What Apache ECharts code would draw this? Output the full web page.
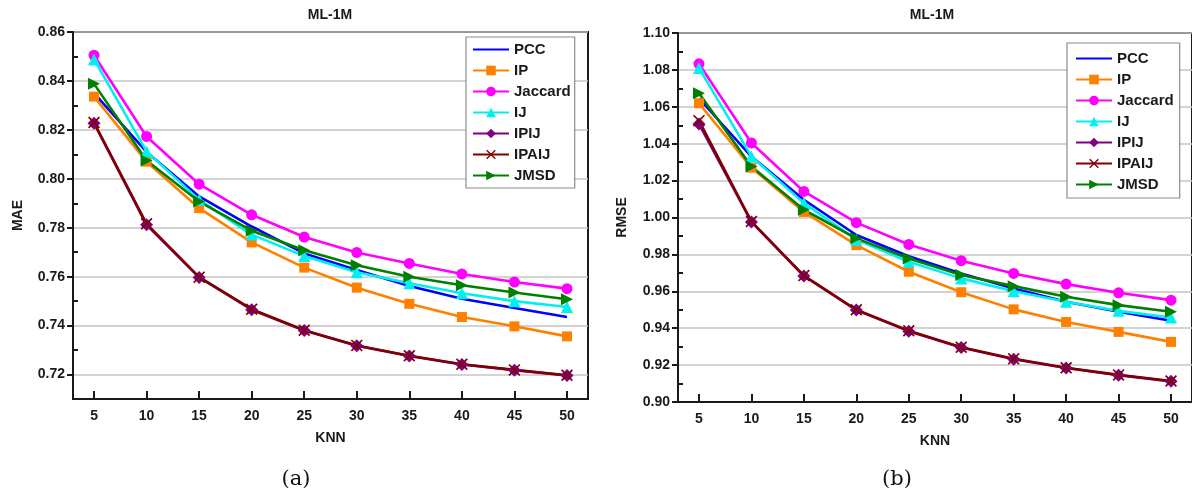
<!DOCTYPE html>
<html><head><meta charset="utf-8">
<script src="https://cdn.jsdelivr.net/npm/echarts@6/dist/echarts.min.js"></script>
<style>html,body{margin:0;padding:0;background:#fff}#c{width:1192px;height:495px}</style>
</head><body><div id="c"></div>
<script>
// ---------- data ----------
const knn = [5, 10, 15, 20, 25, 30, 35, 40, 45, 50];
const seriesNames = ['PCC', 'IP', 'Jaccard', 'IJ', 'IPIJ', 'IPAIJ', 'JMSD'];

const maePCC     = [0.8350, 0.8110, 0.7928, 0.7805, 0.7695, 0.7627, 0.7562, 0.7510, 0.7472, 0.7435];
const maeIP      = [0.8336, 0.8070, 0.7880, 0.7740, 0.7637, 0.7555, 0.7489, 0.7435, 0.7397, 0.7356];
const maeJaccard = [0.8505, 0.8173, 0.7978, 0.7853, 0.7762, 0.7699, 0.7654, 0.7611, 0.7578, 0.7551];
const maeIJ      = [0.8488, 0.8112, 0.7914, 0.7772, 0.7684, 0.7618, 0.7573, 0.7532, 0.7500, 0.7476];
const maeIPIJ    = [0.8227, 0.7812, 0.7597, 0.7465, 0.7380, 0.7318, 0.7276, 0.7241, 0.7218, 0.7196];
const maeIPAIJ   = [0.8230, 0.7816, 0.7598, 0.7467, 0.7381, 0.7319, 0.7277, 0.7242, 0.7219, 0.7197];
const maeJMSD    = [0.8388, 0.8075, 0.7907, 0.7788, 0.7708, 0.7647, 0.7600, 0.7565, 0.7535, 0.7508];

const rmsePCC     = [1.0645, 1.0330, 1.0096, 0.9905, 0.9790, 0.9697, 0.9615, 0.9543, 0.9489, 0.9440];
const rmseIP      = [1.0619, 1.0270, 1.0030, 0.9850, 0.9706, 0.9595, 0.9502, 0.9434, 0.9380, 0.9326];
const rmseJaccard = [1.0833, 1.0404, 1.0141, 0.9972, 0.9854, 0.9766, 0.9697, 0.9639, 0.9592, 0.9552];
const rmseIJ      = [1.0810, 1.0331, 1.0078, 0.9880, 0.9760, 0.9670, 0.9600, 0.9543, 0.9494, 0.9458];
const rmseIPIJ    = [1.0507, 0.9976, 0.9683, 0.9498, 0.9384, 0.9295, 0.9232, 0.9184, 0.9145, 0.9112];
const rmseIPAIJ   = [1.0525, 0.9978, 0.9685, 0.9500, 0.9386, 0.9297, 0.9234, 0.9186, 0.9147, 0.9114];
const rmseJMSD    = [1.0673, 1.0276, 1.0042, 0.9887, 0.9778, 0.9688, 0.9628, 0.9570, 0.9525, 0.9489];

const maeTicks  = [0.72, 0.74, 0.76, 0.78, 0.80, 0.82, 0.84, 0.86];
const maeMinor  = [0.73, 0.75, 0.77, 0.79, 0.81, 0.83, 0.85];
const rmseTicks = [0.90, 0.92, 0.94, 0.96, 0.98, 1.00, 1.02, 1.04, 1.06, 1.08, 1.10];
const rmseMinor = [0.91, 0.93, 0.95, 0.97, 0.99, 1.01, 1.03, 1.05, 1.07, 1.09];

// ---------- styles ----------
const FONT = 'Liberation Sans, Arial, sans-serif';
const DARK = '#1a1a1a';
const styleOf = {
  // PCC: line only; its symbol is a thin bar (with degenerate corner points so it is not stretched)
  PCC:     {color: '#0000ff', symbol: 'path://M0,0 L0.01,0 L0,0.01 Z M0,4.6 L10,4.6 L10,5.4 L0,5.4 Z M10,10 L9.99,10 L10,9.99 Z', size: 0, hide: true},
  IP:      {color: '#ff8000', symbol: 'rect', size: 10},
  Jaccard: {color: '#ff00ff', symbol: 'circle', size: 11},
  IJ:      {color: '#00f0f0', symbol: 'triangle', size: 12},
  IPIJ:    {color: '#800080', symbol: 'diamond', size: 13},
  IPAIJ:   {color: '#800000', symbol: 'path://M0,1 L1,0 L5,4 L9,0 L10,1 L6,5 L10,9 L9,10 L5,6 L1,10 L0,9 L4,5 Z', size: 12},
  JMSD:    {color: '#008000', symbol: 'path://M0,0 L10,5 L0,10 Z', size: 12}
};

function mk(name, vals, gi) {
  const s = styleOf[name];
  return {
    name: name, type: 'line', xAxisIndex: gi, yAxisIndex: gi * 2,
    data: knn.map((k, i) => [k, vals[i]]),
    symbol: s.symbol, symbolSize: s.size, showSymbol: !s.hide,
    lineStyle: {color: s.color, width: 2.6},
    itemStyle: {color: s.color},
    animation: false
  };
}

const maeSets  = [maePCC, maeIP, maeJaccard, maeIJ, maeIPIJ, maeIPAIJ, maeJMSD];
const rmseSets = [rmsePCC, rmseIP, rmseJaccard, rmseIJ, rmseIPIJ, rmseIPAIJ, rmseJMSD];

function xAx(gi) {
  return {
    gridIndex: gi, type: 'value', min: 3, max: 52,
    axisLine: {lineStyle: {color: DARK, width: 2}},
    axisTick: {customValues: knn, inside: true, length: 8, lineStyle: {color: DARK, width: 2}},
    axisLabel: {customValues: knn, margin: 10, color: DARK, fontWeight: 'bold', fontSize: 14, fontFamily: FONT},
    splitLine: {show: false},
    name: 'KNN', nameLocation: 'middle', nameGap: 32,
    nameTextStyle: {color: DARK, fontWeight: 'bold', fontSize: 14, fontFamily: FONT}
  };
}
function yMajor(gi, min, max, ticks, name, gap) {
  return {
    gridIndex: gi, type: 'value', position: 'left', min: min, max: max,
    axisLine: {show: true, lineStyle: {color: DARK, width: 2}},
    axisTick: {customValues: ticks, inside: false, length: 6, lineStyle: {color: DARK, width: 2}},
    axisLabel: {customValues: ticks, margin: 8, color: DARK, fontWeight: 'bold', fontSize: 14, fontFamily: FONT,
      formatter: v => Number(v).toFixed(2)},
    splitLine: {show: true, lineStyle: {color: '#c4c4c4', width: 1.5}},
    name: name, nameLocation: 'middle', nameGap: gap, nameRotate: 90,
    nameTextStyle: {color: DARK, fontWeight: 'bold', fontSize: 14, fontFamily: FONT}
  };
}
function yMinor(gi, min, max, ticks) {
  return {
    gridIndex: gi, type: 'value', position: 'left', min: min, max: max,
    axisLine: {show: false},
    axisTick: {show: true, customValues: ticks, inside: true, length: 5, lineStyle: {color: DARK, width: 2}},
    axisLabel: {show: false, customValues: ticks},
    splitLine: {show: false}
  };
}
function legendAt(left, top, pad) {
  return {
    data: seriesNames, orient: 'vertical', left: left, top: top,
    padding: pad, itemGap: 6, itemWidth: 36, itemHeight: 12,
    backgroundColor: '#fff', borderColor: '#8c8c8c', borderWidth: 1.2, borderRadius: 0,
    textStyle: {color: DARK, fontWeight: 'bold', fontSize: 15, lineHeight: 14, fontFamily: FONT}
  };
}

const series = [];
seriesNames.forEach((n, i) => series.push(mk(n, maeSets[i], 0)));
seriesNames.forEach((n, i) => series.push(mk(n, rmseSets[i], 1)));

const option = {
  animation: false,
  backgroundColor: '#fff',
  grid: [
    {left: 73, top: 32, width: 515, height: 367, show: true, borderColor: DARK, borderWidth: 2},
    {left: 678, top: 33, width: 516, height: 369, show: true, borderColor: DARK, borderWidth: 2}
  ],
  xAxis: [xAx(0), xAx(1)],
  yAxis: [
    yMajor(0, 0.71, 0.86, maeTicks, 'MAE', 48), yMinor(0, 0.71, 0.86, maeMinor),
    yMajor(1, 0.90, 1.10, rmseTicks, 'RMSE', 49), yMinor(1, 0.90, 1.10, rmseMinor)
  ],
  legend: [legendAt(466, 37, [5, 4, 5, 6]), legendAt(1067, 43, [8, 6, 6, 8])],
  series: series,
  graphic: [
    {type: 'text', x: 330, y: 15, style: {text: 'ML-1M', fill: DARK, font: 'bold 14px ' + FONT, textAlign: 'center', textVerticalAlign: 'middle'}},
    {type: 'text', x: 932, y: 15, style: {text: 'ML-1M', fill: DARK, font: 'bold 14px ' + FONT, textAlign: 'center', textVerticalAlign: 'middle'}},
    {type: 'text', x: 296, y: 480, style: {text: '(a)', fill: '#111', font: '21px DejaVu Serif, Liberation Serif, serif', textAlign: 'center', textVerticalAlign: 'middle'}},
    {type: 'text', x: 897, y: 480, style: {text: '(b)', fill: '#111', font: '21px DejaVu Serif, Liberation Serif, serif', textAlign: 'center', textVerticalAlign: 'middle'}}
  ]
};
const chart = echarts.init(document.getElementById('c'), null, {renderer: 'canvas'});
chart.setOption(option);
</script></body></html>
